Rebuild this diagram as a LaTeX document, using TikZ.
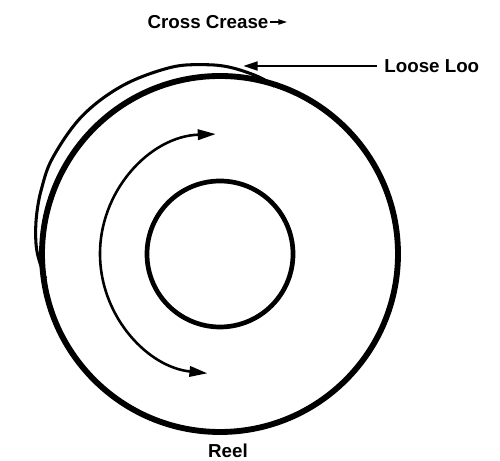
\documentclass[tikz,border=0pt]{standalone}
\usepackage{fontspec}
\setmainfont{Liberation Sans}
\usetikzlibrary{arrows.meta,positioning}

\begin{document}
\begin{tikzpicture}[x=0.03cm,y=0.03cm]
\tikzset{
  label/.style={inner sep=1pt,font=\fontsize{16}{18}\selectfont\bfseries},
  reelline/.style={line width=5pt},
  hubline/.style={line width=4pt},
  loopline/.style={line width=2.6pt},
  turnarrow/.style={{Triangle[length=5.4mm,width=3.1mm]}-{Triangle[length=5.4mm,width=3.1mm]},line width=2.2pt},
  pointer/.style={-{Triangle[length=4.4mm,width=2.6mm]},line width=2.3pt}
}
\useasboundingbox (0,0) rectangle (500,461);
\coordinate (c) at (220,207);
% reel and hub
\draw[reelline] (c) circle[radius=178];
\draw[hubline] (c) circle[radius=73];
% loose loop standing off the reel
\begin{scope}[shift={(c)}]
\draw[loopline] plot[smooth,tension=0.6] coordinates {(72:176.5) (78:181.5) (87:187) (95:190) (105:193) (120:194.5) (135:195) (150:193) (160:190) (168:187.5) (175:185) (180:182.5) (185:178.5) (188:176)};
\end{scope}
% direction of winding
\draw[turnarrow] ([shift={(92:120)}]c) arc[start angle=92,end angle=264,radius=120];
% labels
\node[label] (n_crease) at (208,439) {Cross Crease};
\coordinate (crease_tip) at (287,439);
\draw[-{Triangle[length=2.6mm,width=1.6mm]},line width=1.2pt] (n_crease.east) -- (crease_tip);
\node[label,anchor=west] (n_loop) at (383,395) {Loose Loo};
\coordinate (loop_tip) at (243,395);
\draw[pointer] (n_loop.west) ++(-6,0) -- (loop_tip);
\node[label,anchor=base] (n_reel) at (228,3) {Reel};
\end{tikzpicture}
\end{document}
